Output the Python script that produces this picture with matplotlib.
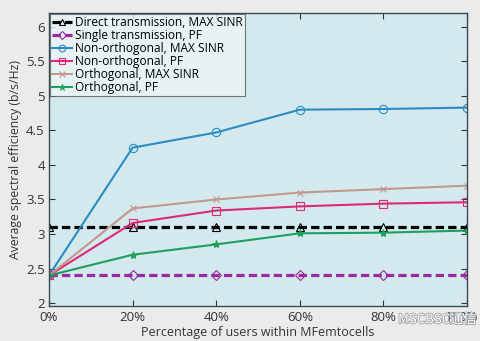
import matplotlib.pyplot as plt
import matplotlib.patheffects as pe
from matplotlib.transforms import ScaledTranslation

users_pct = [0, 20, 40, 60, 80, 100]
direct_max_sinr = [3.1, 3.1, 3.1, 3.1, 3.1, 3.1]
single_pf = [2.4, 2.4, 2.4, 2.4, 2.4, 2.4]
nonorth_max_sinr = [2.4, 4.25, 4.47, 4.8, 4.81, 4.83]
nonorth_pf = [2.4, 3.16, 3.34, 3.4, 3.44, 3.46]
orth_max_sinr = [2.4, 3.37, 3.5, 3.6, 3.65, 3.7]
orth_pf = [2.4, 2.7, 2.85, 3.01, 3.02, 3.05]

x_ticks = [0, 20, 40, 60, 80, 100]
x_labels = ["0%", "20%", "40%", "60%", "80%", "100%"]
y_ticks = [2, 2.5, 3, 3.5, 4, 4.5, 5, 5.5, 6]
y_labels = ["2", "2.5", "3", "3.5", "4", "4.5", "5", "5.5", "6"]

plt.rcParams["font.family"] = ["Open Sans", "DejaVu Sans"]

fig = plt.figure(figsize=(4.8, 3.41), dpi=100, facecolor="#ebebeb")
ax = fig.add_axes([0.102, 0.103, 0.871, 0.859])
ax.set_facecolor("#d3e9ee")

dash = (2.6, 1.3)
ax.plot(users_pct, direct_max_sinr, "--", dashes=dash, color="black", lw=2.3,
        marker="^", ms=6, mfc="none", mew=0.8,
        label="Direct transmission, MAX SINR")
ax.plot(users_pct, single_pf, "--", dashes=dash, color="#9a2aa0", lw=2.3,
        marker="D", ms=5, mfc="none", mew=0.8, label="Single transmission, PF")
ax.plot(users_pct, nonorth_max_sinr, "-", color="#2b8cc3", lw=1.5, marker="o",
        ms=6, mfc="none", mew=0.8, label="Non-orthogonal, MAX SINR")
ax.plot(users_pct, nonorth_pf, "-", color="#dc2a78", lw=1.5, marker="s",
        ms=6, mfc="none", mew=0.8, label="Non-orthogonal, PF")
ax.plot(users_pct, orth_max_sinr, "-", color="#c0998a", lw=1.5, marker="x",
        ms=5, mew=0.8, label="Orthogonal, MAX SINR")
ax.plot(users_pct, orth_pf, "-", color="#1e9f5c", lw=1.5, marker="*",
        ms=6, mew=0.6, label="Orthogonal, PF")

ax.set_xlim(0, 100)
ax.set_ylim(1.96, 6.2)
ax.set_xticks(x_ticks)
ax.set_xticklabels(x_labels)
ax.set_yticks(y_ticks)
ax.set_yticklabels(y_labels)
ax.tick_params(direction="in", top=True, right=True, labelsize=9.5,
               colors="#333333", length=4, pad=3)
ax.tick_params(axis="x", pad=4)
for sp in ax.spines.values():
    sp.set_color("#3c4a55")
    sp.set_linewidth(1)

# nudge the "100%" label left so it stays inside the figure
last = ax.get_xticklabels()[-1]
last.set_transform(last.get_transform()
                   + ScaledTranslation(-4 / 72, 0, fig.dpi_scale_trans))

ax.set_xlabel("Percentage of users within MFemtocells", fontsize=9,
              color="#333333", labelpad=1)
ax.set_ylabel("Average spectral efficiency (b/s/Hz)", fontsize=8.8,
              color="#333333", labelpad=3)

leg = ax.legend(loc="upper left", fontsize=8.6, frameon=True, fancybox=False,
                borderpad=0.15, labelspacing=0.0, handlelength=1.7,
                handletextpad=0.25, borderaxespad=0.12, edgecolor="#555555",
                markerscale=0.8)
leg.get_frame().set_facecolor("#eef5f7")
leg.get_frame().set_linewidth(0.8)

# watermark in the lower right corner
wm = fig.text(0.993, 0.062, "MSCBSC通信", fontsize=9.5, color="white",
              family=["Noto Sans CJK SC", "DejaVu Sans"], ha="right",
              va="center")
wm.set_path_effects([pe.withStroke(linewidth=1.2, foreground="#9a9fa3")])

fig.savefig("out.png", dpi=100, facecolor=fig.get_facecolor())
